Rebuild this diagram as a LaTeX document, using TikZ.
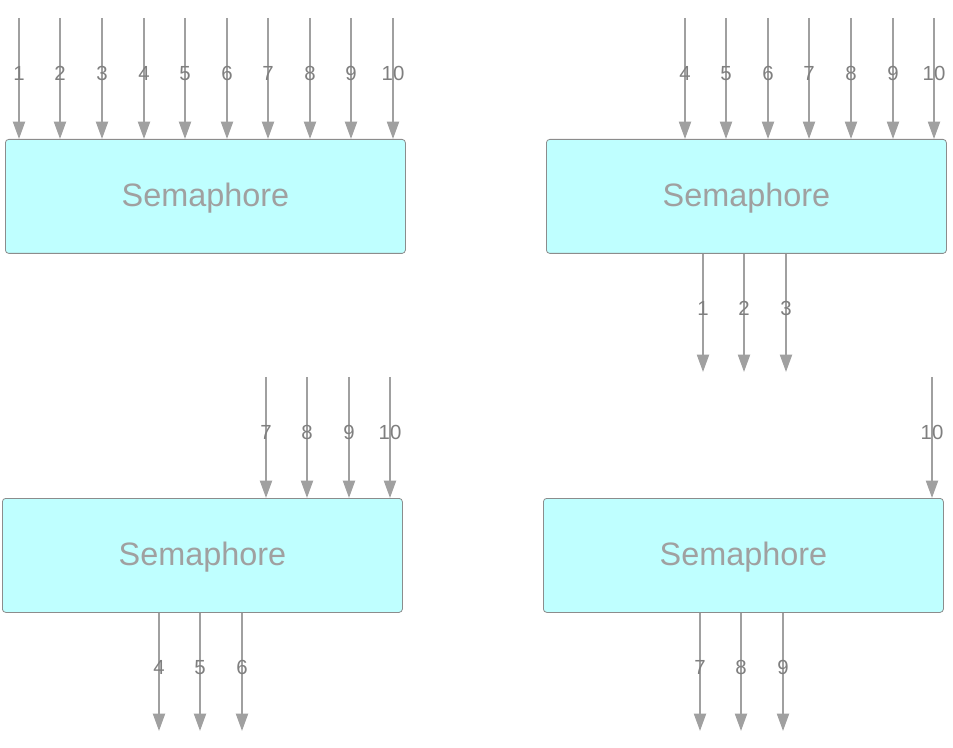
\documentclass[tikz,border=0pt]{standalone}
\usepackage{fontspec}
\setmainfont{Liberation Sans}
\usetikzlibrary{arrows.meta}
\definecolor{boxfill}{HTML}{BFFFFF}
\definecolor{boxline}{HTML}{8C8C8C}
\definecolor{arrcol}{HTML}{A0A0A0}
\definecolor{lblcol}{HTML}{7F7F7F}
\definecolor{semcol}{HTML}{A0A0A0}
\tikzset{
  sembox/.style={draw=boxline, line width=0.6pt, fill=boxfill, rounded corners=2.5pt,
    minimum width=300pt, minimum height=85.5pt, inner sep=0pt, anchor=north west},
  semtext/.style={text=semcol, font=\fontsize{24.3}{26}\selectfont, inner sep=0pt},
  arr/.style={draw=arrcol, line width=1.5pt, -{Triangle[length=13pt,width=9pt]}},
  lbl/.style={text=lblcol, font=\fontsize{15.3}{17}\selectfont, inner sep=0pt}
}
\begin{document}
\begin{tikzpicture}[x=0.75pt,y=-0.75pt]
\useasboundingbox (0,0) rectangle (953,748);
% boxes
\node[sembox] (b1) at (5,139) {};
\node[sembox] (b2) at (546,139) {};
\node[sembox] (b3) at (2,498) {};
\node[sembox] (b4) at (543,498) {};
\foreach \b in {b1,b2,b3,b4}{
  \node[semtext] (t\b) at ([yshift=-1.5pt]\b.center) {Semaphore};
}
% box 1 inputs
\foreach \x/\n in {19/1,60/2,102/3,144/4,185/5,227/6,268/7,310/8,351/9,393/10}{
  \coordinate (ia\n) at (\x,18);
  \draw[arr] (ia\n) -- (ia\n |- b1.north);
  \node[lbl] (la\n) at (\x,73.5) {\n};
}
% box 2 inputs
\foreach \x/\n in {685/4,726/5,768/6,809/7,851/8,893/9,934/10}{
  \coordinate (ib\n) at (\x,18);
  \draw[arr] (ib\n) -- (ib\n |- b2.north);
  \node[lbl] (lb\n) at (\x,73.5) {\n};
}
% box 2 outputs
\foreach \x/\n in {703/1,744/2,786/3}{
  \coordinate (ob\n) at (\x,372);
  \draw[arr] (ob\n |- b2.south) -- (ob\n);
  \node[lbl] (mb\n) at (\x,308.5) {\n};
}
% box 3 inputs
\foreach \x/\n in {266/7,307/8,349/9,390/10}{
  \coordinate (ic\n) at (\x,377);
  \draw[arr] (ic\n) -- (ic\n |- b3.north);
  \node[lbl] (lc\n) at (\x,432.5) {\n};
}
% box 3 outputs
\foreach \x/\n in {159/4,200/5,242/6}{
  \coordinate (oc\n) at (\x,731);
  \draw[arr] (oc\n |- b3.south) -- (oc\n);
  \node[lbl] (mc\n) at (\x,667.5) {\n};
}
% box 4 inputs
\coordinate (id10) at (932,377);
\draw[arr] (id10) -- (id10 |- b4.north);
\node[lbl] (ld10) at (932,432.5) {10};
% box 4 outputs
\foreach \x/\n in {700/7,741/8,783/9}{
  \coordinate (od\n) at (\x,731);
  \draw[arr] (od\n |- b4.south) -- (od\n);
  \node[lbl] (md\n) at (\x,667.5) {\n};
}
\end{tikzpicture}
\end{document}
